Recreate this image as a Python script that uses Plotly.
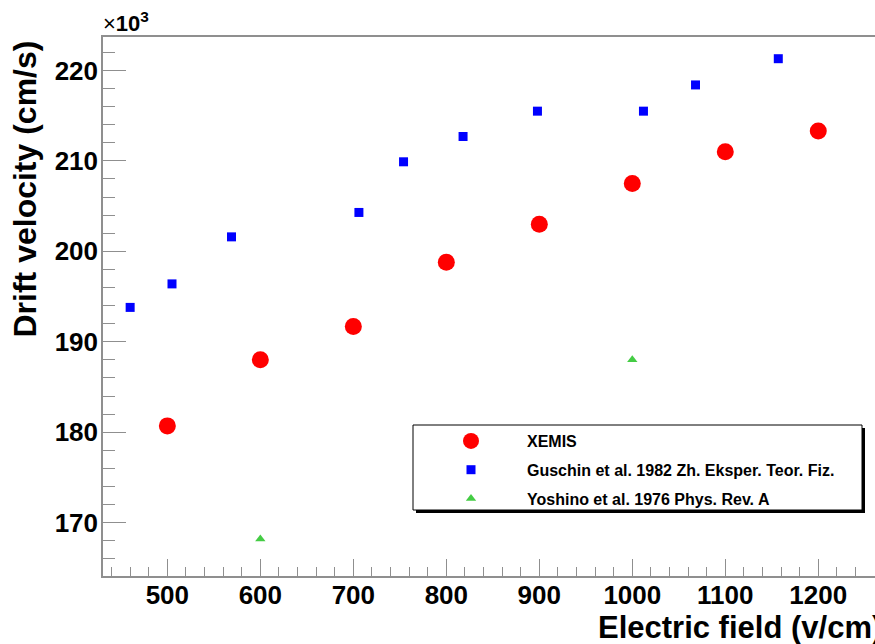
import plotly.graph_objects as go

# Data (drift velocity in units of 10^3 cm/s, field in V/cm)
xemis_field = [500, 600, 700, 800, 900, 1000, 1100, 1200]
xemis_v = [180.7, 188.0, 191.7, 198.8, 203.0, 207.5, 211.0, 213.3]

guschin_field = [460, 505, 569, 706, 754, 818, 898, 1012, 1068, 1157]
guschin_v = [193.8, 196.4, 201.6, 204.3, 209.9, 212.7, 215.5, 215.5, 218.4, 221.3]

yoshino_field = [600, 1000]
yoshino_v = [168.2, 188.0]

names = ["XEMIS", "Guschin et al. 1982 Zh. Eksper. Teor. Fiz.", "Yoshino et al. 1976 Phys. Rev. A"]

W, H = 875, 644
ML, MR, MT, MB = 103, 0, 37, 68
PW, PH = W - ML - MR, H - MT - MB

def px(x):
    return (x - ML) / PW

def py(y):
    return (H - MB - y) / PH

FONT = "Liberation Sans, Arial, Helvetica, sans-serif"
AXC = "#8f8f8f"

fig = go.Figure()
fig.add_trace(go.Scatter(x=xemis_field, y=xemis_v, mode="markers", name=names[0],
                         legendgroup="a",
                         marker=dict(symbol="circle", size=17, color="#ff0000")))
fig.add_trace(go.Scatter(x=guschin_field, y=guschin_v, mode="markers", name=names[1],
                         legendgroup="b",
                         marker=dict(symbol="square", size=9, color="#0000ff")))
fig.add_trace(go.Scatter(x=yoshino_field, y=yoshino_v, mode="markers", name=names[2],
                         legendgroup="c",
                         marker=dict(symbol="triangle-up", size=9, color="#44cc44")))

# legend box with shadow
fig.add_shape(type="rect", xref="paper", yref="paper",
              x0=px(416), x1=px(865), y0=py(513), y1=py(428),
              fillcolor="black", line=dict(width=0), layer="above")
fig.add_shape(type="rect", xref="paper", yref="paper",
              x0=px(413), x1=px(862), y0=py(510), y1=py(425),
              fillcolor="white", line=dict(color="black", width=1), layer="above")

fig.update_layout(
    width=W, height=H,
    margin=dict(l=ML, r=MR, t=MT, b=MB),
    paper_bgcolor="white", plot_bgcolor="white",
    showlegend=True,
    legend=dict(x=px(415), y=py(424), xanchor="left", yanchor="top",
                bgcolor="rgba(0,0,0,0)", borderwidth=0,
                font=dict(family=FONT, size=16, color="black", weight="bold"),
                tracegroupgap=5, itemwidth=102, traceorder="grouped"),
    xaxis=dict(range=[430.8, 1261], showgrid=False, zeroline=False,
               showline=True, linecolor=AXC, linewidth=1.5, mirror=True,
               ticks="inside", ticklen=17, tickcolor=AXC, tickwidth=1.2,
               tick0=0, dtick=100,
               minor=dict(ticks="inside", ticklen=9, dtick=20, tickcolor=AXC, tickwidth=1.2),
               tickfont=dict(family=FONT, size=26, color="black", weight="bold"),
               ticklabelstandoff=-5),
    yaxis=dict(range=[164.1, 223.7], showgrid=False, zeroline=False,
               showline=True, linecolor=AXC, linewidth=1.5,
               ticks="inside", ticklen=23, tickcolor=AXC, tickwidth=1.2,
               tick0=0, dtick=10,
               minor=dict(ticks="inside", ticklen=12, dtick=2, tickcolor=AXC, tickwidth=1.2),
               tickfont=dict(family=FONT, size=26, color="black", weight="bold"),
               ticklabelstandoff=-2),
)

fig.add_annotation(text="Electric field (v/cm)", xref="paper", yref="paper",
                   x=px(884), y=py(627), xanchor="right", yanchor="middle",
                   showarrow=False,
                   font=dict(family=FONT, size=31, color="black", weight="bold"))
fig.add_annotation(text="Drift velocity (cm/s)", xref="paper", yref="paper",
                   x=px(25), y=py(39), xanchor="center", yanchor="top",
                   textangle=-90, showarrow=False,
                   font=dict(family=FONT, size=32, color="black", weight="bold"))
fig.add_annotation(text="×<b>10<sup>3</sup></b>", xref="paper", yref="paper",
                   x=px(101), y=py(38), xanchor="left", yanchor="bottom",
                   showarrow=False,
                   font=dict(family=FONT, size=22, color="black"))

post = ("document.body.style.margin='0';document.body.style.overflow='hidden';"
        "var gd=document.getElementById('{plot_id}');"
        "Plotly.relayout(gd,{width:875,height:644});")
fig.write_html("out.html", post_script=post,
               config={"responsive": False, "displayModeBar": False})
